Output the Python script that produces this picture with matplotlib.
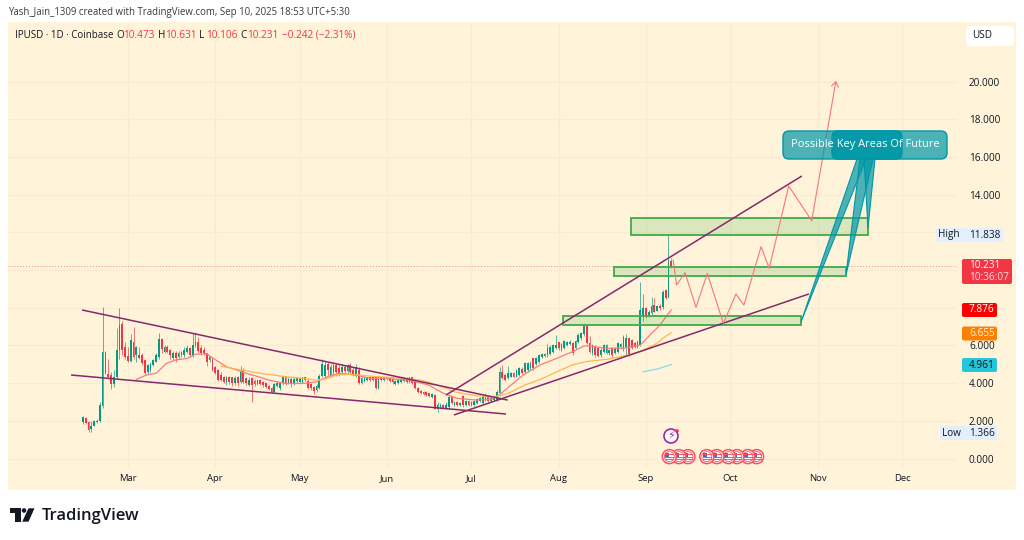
import numpy as np
import matplotlib
matplotlib.use("Agg")
import matplotlib.pyplot as plt
from matplotlib.patches import Rectangle, FancyBboxPatch, Polygon, Circle

plt.rcParams['font.family'] = ['Open Sans', 'DejaVu Sans']

# candles, first one is 16 days before Mar 1
first_day = -16
opens = [1.95,2.15,1.95,1.55,1.75,1.95,2.0,2.8,5.67,4.5,
    4.43,3.95,4.3,5.75,7.15,5.9,5.45,5.15,6.2,5.49,
    5.49,5.49,5.23,4.61,4.7,4.96,5.14,5.4,6.34,5.67,
    5.94,5.76,5.31,5.58,5.4,5.49,5.49,5.67,5.85,5.49,
    6.02,6.2,5.85,5.76,5.58,5.2,5.3,4.84,4.7,4.43,
    4.31,4.08,4.31,4.31,4.0,4.35,4.08,4.7,4.25,3.9,
    4.25,4.1,3.95,4.15,4.05,4.0,3.85,3.75,3.55,3.85,
    3.72,3.98,4.3,4.0,4.2,3.98,4.1,4.05,4.07,4.3,
    4.1,3.95,3.8,3.65,3.75,4.4,4.4,5.0,4.4,4.6,
    4.95,4.8,4.6,4.85,4.65,4.95,4.7,4.4,4.7,4.0,
    4.1,4.15,4.3,4.15,4.3,3.75,4.3,4.15,4.2,4.3,
    4.2,3.95,4.0,4.05,4.1,4.25,4.05,4.3,4.1,3.75,
    3.6,3.55,3.55,3.45,3.25,3.35,2.65,2.75,2.85,2.7,
    2.75,3.25,2.85,3.0,2.85,3.3,2.85,3.05,3.0,2.85,
    2.95,3.05,2.95,3.1,3.3,3.05,3.1,3.1,3.46,4.6,
    4.43,4.25,4.34,4.52,4.34,4.43,4.73,4.6,4.69,4.78,
    5.31,5.0,5.1,5.4,5.44,5.48,5.54,5.67,5.84,6.16,
    6.07,5.84,6.02,6.07,6.11,5.84,6.2,6.37,6.6,7.08,
    6.11,5.58,5.93,5.84,5.49,5.67,5.61,5.58,5.84,5.61,
    5.67,5.93,5.84,5.93,6.37,6.29,6.11,5.93,6.02,7.6,
    7.96,7.56,7.7,8.14,7.84,8.09,8.02,8.94,8.58,10.473]
closes = [2.2,1.9,1.5,1.75,2.0,2.0,2.85,5.67,4.52,4.3,
    3.95,4.35,5.75,7.1,5.75,5.4,5.15,6.3,5.4,5.94,
    5.31,5.05,4.56,4.96,5.0,5.23,5.49,6.34,5.8,5.94,
    5.67,5.49,5.58,5.31,5.58,5.67,5.76,5.85,5.49,6.02,
    6.2,5.7,5.58,5.58,5.14,5.4,4.7,4.56,4.17,4.17,
    4.08,4.31,4.05,4.0,4.25,4.0,4.65,4.08,4.0,4.17,
    3.9,3.95,4.15,3.95,3.9,3.8,3.7,3.55,3.95,4.0,
    3.98,4.3,4.0,4.2,3.95,4.2,4.25,4.25,4.3,4.15,
    3.75,3.72,3.6,3.85,4.4,5.0,4.95,4.7,4.85,4.95,
    4.6,4.5,4.85,4.65,4.95,4.6,4.45,4.85,4.0,4.25,
    4.25,4.3,4.15,4.3,3.75,4.3,4.15,4.3,4.3,4.1,
    4.05,4.1,4.15,4.2,4.25,4.05,4.3,4.0,3.75,3.55,
    3.45,3.4,3.35,3.3,3.4,2.65,2.85,2.85,2.7,2.85,
    3.25,2.95,3.0,2.85,2.95,2.85,3.05,2.85,2.85,3.05,
    3.15,3.2,3.3,3.3,3.05,3.2,3.2,3.55,4.6,4.25,
    4.16,4.52,4.52,4.34,4.69,4.78,4.55,5.05,5.05,5.05,
    4.78,5.31,5.49,5.54,5.52,5.84,5.93,6.02,6.02,5.84,
    5.75,6.25,6.2,6.2,5.58,6.25,6.55,6.64,7.03,6.11,
    5.67,6.02,5.49,5.44,5.75,6.02,6.02,5.75,5.49,5.84,
    6.11,6.07,6.46,6.37,5.49,5.84,5.9,6.2,7.88,8.0,
    7.52,7.79,8.11,7.79,8.09,7.96,8.85,8.5,10.53,10.231]
highs = [2.25,2.2,2.0,2.0,2.05,2.1,3.0,8.05,5.7,5.3,
    4.6,4.7,6.9,8.0,7.3,6.2,5.9,6.6,7.0,5.95,
    5.9,5.6,5.3,5.0,5.1,5.3,5.6,6.64,6.4,6.0,
    6.0,5.8,5.7,5.7,5.7,5.7,5.9,6.0,5.9,6.64,
    6.7,6.45,6.0,5.9,5.6,5.45,5.4,4.9,4.75,4.6,
    4.4,4.4,4.4,4.35,4.4,4.4,4.9,4.8,4.35,4.3,
    4.3,4.2,4.2,4.2,4.1,4.05,3.9,3.8,4.0,4.1,
    4.05,4.4,4.4,4.3,4.3,4.3,4.3,4.35,4.35,4.35,
    4.2,4.0,3.85,3.95,4.5,5.3,5.15,5.1,5.0,5.0,
    5.05,4.95,5.0,4.95,5.0,5.05,4.8,5.0,4.85,4.3,
    4.3,4.35,4.35,4.35,4.35,4.35,4.4,4.35,4.35,4.35,
    4.3,4.15,4.2,4.3,4.3,4.35,4.35,4.35,4.15,3.8,
    3.65,3.6,3.6,3.5,3.45,3.4,3.0,2.95,2.9,3.0,
    3.35,3.3,3.05,3.05,3.0,3.35,3.1,3.1,3.05,3.1,
    3.2,3.25,3.4,3.5,3.35,3.3,3.3,3.65,4.87,4.95,
    4.5,4.92,4.6,4.6,4.75,4.85,4.85,5.1,5.1,5.15,
    5.35,5.4,5.55,5.6,5.6,6.07,6.0,6.1,6.55,6.2,
    6.15,6.3,6.25,6.3,6.2,6.3,6.65,6.7,7.2,7.15,
    6.5,6.1,6.0,5.9,5.85,6.1,6.1,5.8,5.9,5.9,
    6.2,6.15,6.55,6.6,6.45,6.35,6.2,6.3,9.38,8.75,
    8.05,7.9,8.55,8.5,8.15,8.2,8.95,9.0,11.84,10.631]
lows = [1.85,1.85,1.4,1.4,1.75,1.9,1.95,2.7,4.5,4.2,
    3.7,3.8,4.2,5.3,5.5,5.3,5.1,5.1,5.3,5.1,
    5.3,4.95,4.5,4.5,4.6,4.9,5.1,5.3,5.6,5.6,
    5.6,5.3,5.2,5.1,5.3,5.4,5.4,5.6,5.4,5.4,
    5.9,5.65,5.5,5.5,4.9,5.1,4.65,4.5,4.1,4.1,
    4.0,3.9,3.95,3.85,3.9,3.85,4.0,4.0,3.9,3.85,
    2.99,3.85,3.9,3.9,3.8,3.75,3.65,3.45,3.5,3.8,
    3.65,3.9,3.9,3.95,3.8,3.9,4.0,4.0,4.0,4.1,
    3.7,3.65,3.4,3.55,3.7,4.3,4.3,4.4,4.3,4.4,
    4.4,4.4,4.5,4.5,4.5,4.5,4.4,4.35,3.95,3.95,
    4.05,4.1,4.1,4.1,3.7,3.7,4.1,4.1,4.15,4.05,
    3.95,3.9,3.95,4.0,4.05,4.0,4.0,3.95,3.7,3.5,
    3.4,3.35,3.3,3.25,3.2,2.6,2.45,2.6,2.65,2.6,
    2.65,2.9,2.8,2.8,2.8,2.75,2.8,2.8,2.8,2.8,
    2.9,3.0,2.9,3.05,3.0,3.0,3.05,3.05,3.3,4.2,
    4.1,4.2,4.3,4.3,4.3,4.4,4.5,4.55,4.6,4.7,
    4.7,4.95,5.05,5.35,5.4,5.4,5.5,5.6,5.8,5.75,
    5.7,5.8,5.95,6.0,5.5,5.8,6.15,6.3,6.5,6.05,
    5.6,5.5,5.4,5.4,5.4,5.6,5.55,5.5,5.4,5.55,
    5.6,5.85,5.7,5.45,5.45,5.8,5.85,5.85,5.95,7.3,
    7.45,7.5,7.6,7.75,7.8,7.9,7.95,8.45,8.5,10.106]

# moving averages
ma_red_days = [3,6.6,10,13.7,17,21,24,28,31.5,35,38.6,42,47,50,56,62,67,71,75,81,86,92,100,107,112,117,124,129,132,135,
    140.6,146.5,152.4,158,162,164,170,176,182,186,189,191.5,193]
ma_red_vals = [4.2,4.43,4.52,5.05,5.23,5.31,5.53,5.55,5.2,4.87,4.7,4.52,4.31,4.16,3.98,3.98,4.07,4.34,4.52,4.43,4.25,4.25,4.16,3.89,3.46,3.19,3.10,3.13,3.37,3.76,
    4.45,4.97,5.32,5.67,5.97,5.97,5.85,5.85,6.02,6.64,7.08,7.6,7.88]
ma_orange_days = [33,40,47,56,62,67,71,74,80,86,98,104,110,116,122,129,133,135,141,146.5,152.4,158,163,170,176,182,188,190,193]
ma_orange_vals = [4.9,4.7,4.52,4.34,4.25,4.16,4.25,4.43,4.46,4.37,4.25,4.16,3.89,3.54,3.37,3.25,3.37,3.45,3.9,4.2,4.6,4.97,5.15,5.26,5.44,5.67,6.11,6.38,6.68]
ma_cyan_days = [183,188,193]
ma_cyan_vals = [4.6,4.75,4.98]

# drawings
falling_upper = ([-16.3,134.9],[7.88,3.10])
falling_lower = ([-20.2,134.3],[4.43,2.36])
rising_upper = ([113,239.4],[3.37,14.99])
rising_lower = ([115.8,241.9],[2.31,8.73])
zone_starts = [178.7,172.7,154.6]
zone_ends = [262.8,255,239]
zone_tops = [12.76,10.16,7.56]
zone_bottoms = [11.87,9.66,7.08]
path_days = [193.7,194.9,197.9,201.8,205.8,211.5,216,218.8,224.9,227.8,234.7,242.9,251.5]
path_vals = [10.53,9.2,9.86,8.02,9.82,7.17,8.73,8.14,11.24,10.09,14.46,12.62,20.04]

month_days = [0,31,61,92,122,153,184,214,245,275]
month_labels = ['Mar','Apr','May','Jun','Jul','Aug','Sep','Oct','Nov','Dec']
price_ticks = [0,2,4,6,8,10,12,14,16,18,20]
price_labels = ['0.000','2.000','4.000','6.000','','','','14.000','16.000','18.000','20.000']
event_days = [192.3,195.7,198.9,205.6,209.2,213.3,216.3,220.2,223.3]
last_price = 10.231

PANE = '#fff3da'
GRID = '#f9ebd2'
UP = '#089981'
DOWN = '#f23645'
PURPLE = '#86296a'
TEAL = '#0097a7'
DARK = '#131722'

W, H = 1024, 540
fig = plt.figure(figsize=(W/100, H/100), dpi=100, facecolor='white')

def area(x0, y0, x1, y1):
    return [x0/W, 1-y1/H, (x1-x0)/W, (y1-y0)/H]

bg = fig.add_axes([0,0,1,1], zorder=0)
bg.set_xlim(0,W); bg.set_ylim(H,0); bg.axis('off')
bg.add_patch(Rectangle((8,22),1008,468,fc=PANE,ec='none'))

ax = fig.add_axes(area(8,22,957,468), zorder=1)
ax.patch.set_visible(False)
ax.set_xlim(-42.6,294.5)
ax.set_ylim(-0.504,23.16)
for s in ax.spines.values():
    s.set_visible(False)
ax.yaxis.tick_right()
ax.set_yticks(price_ticks, price_labels)
ax.set_xticks(month_days, month_labels)
ax.tick_params(axis='y', length=0, pad=8.6, labelsize=7.2, labelcolor=DARK)
ax.tick_params(axis='x', length=0, pad=4.5, labelsize=6.8, labelcolor=DARK)
ax.grid(True, color=GRID, lw=0.8)
ax.set_axisbelow(True)

ax.axhline(last_price, color=DOWN, lw=0.7, ls=(0,(1,2)), alpha=0.55, zorder=1.5)

# candles
days = np.arange(len(opens)) + first_day
o, c = np.array(opens), np.array(closes)
cols = [UP if b >= a else DOWN for a, b in zip(opens, closes)]
ax.vlines(days, lows, highs, colors=cols, lw=0.6, alpha=0.8, zorder=2)
ax.bar(days, np.abs(c-o), bottom=np.minimum(o,c), width=0.62, color=cols, lw=0, zorder=2)

ax.plot(ma_red_days, ma_red_vals, color='#f77c80', lw=0.9, zorder=2.5)
ax.plot(ma_orange_days, ma_orange_vals, color='#ffb74d', lw=0.9, zorder=2.5)
ax.plot(ma_cyan_days, ma_cyan_vals, color='#80deea', lw=0.9, zorder=2.5)

for zs, ze, zt, zb in zip(zone_starts, zone_ends, zone_tops, zone_bottoms):
    ax.add_patch(Rectangle((zs,zb), ze-zs, zt-zb, fc=(0.298,0.686,0.314,0.2), ec='#4caf50', lw=1.4, zorder=3))

for xs, ys in (falling_upper, falling_lower, rising_upper, rising_lower):
    ax.plot(xs, ys, color=PURPLE, lw=1.1, zorder=3.5, solid_capstyle='butt')

ax.plot(path_days[:-1], path_vals[:-1], color='#f7757b', lw=0.8, zorder=3.5)
ax.annotate('', xy=(path_days[-1],path_vals[-1]), xytext=(path_days[-2],path_vals[-2]),
            arrowprops=dict(arrowstyle='->,head_length=0.35,head_width=0.25', color='#f7757b', lw=0.8, shrinkA=0, shrinkB=0), zorder=3.5)

# everything chart-chrome goes in pixel coordinates
ui = fig.add_axes([0,0,1,1], zorder=2)
ui.set_xlim(0,W); ui.set_ylim(H,0); ui.axis('off')

def day_px(d):
    return 128 + 2.815*d

def price_px(p):
    return 458.5 - 18.85*p

# callout
tails = [[(801,322),(857,159),(866,159)], [(846,275),(860,159),(873,159)], [(868,228),(864,159),(875,159)]]
for t in tails:
    ui.add_patch(Polygon(t, closed=True, fc=(0,0.592,0.655,0.7), ec=TEAL, lw=0.8))
for x0, x1 in ((783,947),(832,902),(833,901)):
    ui.add_patch(FancyBboxPatch((x0+4,135),x1-x0-8,20,boxstyle='round,pad=4,rounding_size=6',
                 fc=(0,0.592,0.655,0.7), ec=TEAL, lw=1))
ui.text(865,144.5,'Possible Key Areas Of Future',color='white',fontsize=7.9,ha='center',va='center')

# header
ui.text(8.5,12.5,'Yash_Jain_1309 created with TradingView.com, Sep 10, 2025 18:53 UTC+5:30',color='#3a3a3a',fontsize=6.95,va='center')
ui.text(15,35,'IPUSD · 1D · Coinbase',color=DARK,fontsize=7.0,va='center')
legend = [(116,'O',DARK),(123,'10.473',DOWN),(158,'H',DARK),(165,'10.631',DOWN),(199,'L',DARK),(206,'10.106',DOWN),
          (240,'C',DARK),(247,'10.231',DOWN),(282,'−0.242 (−2.31%)',DOWN)]
for lx, s, col in legend:
    ui.text(lx,35,s,color=col,fontsize=7.2,va='center')

ui.add_patch(FancyBboxPatch((968,28),44,16,boxstyle='round,pad=2,rounding_size=3',fc='white',ec='none'))
ui.text(972,36,'USD',color=DARK,fontsize=7.2,va='center')

# price tags
ui.add_patch(Rectangle((936,228),26,14,fc='#e3effd',ec='none'))
ui.add_patch(Rectangle((962,228),41,14,fc='#e3effd',ec='none'))
ui.text(949,235,'High',color=DARK,fontsize=7.2,ha='center',va='center')
ui.text(969,235,'11.838',color=DARK,fontsize=7.2,va='center')
ui.add_patch(Rectangle((940,426),22,14,fc='#e3effd',ec='none'))
ui.add_patch(Rectangle((962,426),35,14,fc='#e3effd',ec='none'))
ui.text(951,433,'Low',color=DARK,fontsize=7.2,ha='center',va='center')
ui.text(969,433,'1.366',color=DARK,fontsize=7.2,va='center')

ui.add_patch(FancyBboxPatch((963,260),48,23,boxstyle='round,pad=1,rounding_size=2',fc=DOWN,ec='none'))
ui.text(969,265.5,'10.231',color='white',fontsize=7.2,va='center')
ui.text(969,277.5,'10:36:07',color='#fde0e2',fontsize=7.2,va='center')
for top, val, col, tc in ((303,'7.876','#ff0000','white'),(326.5,'6.655','#ff8000','#fff3e0'),(358,'4.961','#26c6da',DARK)):
    ui.add_patch(FancyBboxPatch((963,top+1),33,12,boxstyle='round,pad=1,rounding_size=2',fc=col,ec='none'))
    ui.text(969,top+7,val,color=tc,fontsize=7.2,va='center')

# event icons, leftmost on top
ev_y = price_px(0.1)
for d in event_days[::-1]:
    ex = day_px(d)
    ui.add_patch(Circle((ex,ev_y),7,fc='white',ec='#f7525f',lw=1.1))
    ui.add_patch(Circle((ex,ev_y),5,fc='white',ec='#f7525f',lw=0.6))
    for dy in (-2.5,0,2.5):
        ui.plot([ex-4,ex+4],[ev_y+dy,ev_y+dy],color='#f7525f',lw=0.7)
    ui.add_patch(Rectangle((ex-4,ev_y-3.8),4,3.8,fc='#3a6fd8',ec='none'))
ui.add_patch(Circle((671,436),7,fc='white',ec='#9c27b0',lw=1.2))
ui.text(671,436,'⚡',color='#9c27b0',fontsize=8,ha='center',va='center',family=['DejaVu Sans'])
ui.add_patch(Circle((677,431),1.8,fc='#f23645',ec='none'))

# logo
ui.add_patch(Polygon([(10,508.3),(20.8,508.3),(20.8,521.7),(15.4,521.7),(15.4,512.8),(10,512.8)],fc='#131722',ec='none'))
ui.add_patch(Circle((24,510.5),2.3,fc='#131722',ec='none'))
ui.add_patch(Polygon([(28.5,508.3),(34.5,508.3),(28.5,521.7),(22.2,521.7)],fc='#131722',ec='none'))
ui.text(41.5,515.5,'TradingView',color='#131722',fontsize=12,fontweight='semibold',va='center')

fig.savefig('out.png', dpi=100, facecolor='white')
